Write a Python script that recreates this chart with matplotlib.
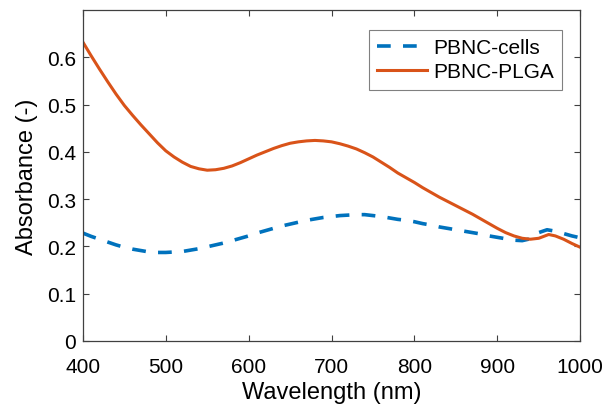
import matplotlib
matplotlib.use("Agg")
import matplotlib.pyplot as plt

plt.rcParams["font.family"] = ["Liberation Sans", "DejaVu Sans"]

# ---------------------------------------------------------------------------
# Data
# ---------------------------------------------------------------------------
wl_plga = [400, 410, 420, 430, 440, 450, 460, 470, 480, 490, 500, 510, 520,
           530, 540, 550, 560, 570, 580, 590, 600, 610, 620, 630, 640, 650,
           660, 670, 680, 690, 700, 710, 720, 730, 740, 750, 760, 770, 780,
           790, 800, 810, 820, 830, 840, 850, 860, 870, 880, 890, 900, 910,
           920, 930, 940, 950, 962, 970, 980, 990, 1000]
abs_plga = [0.632, 0.603, 0.575, 0.548, 0.522, 0.498, 0.477, 0.457, 0.438,
            0.419, 0.402, 0.389, 0.378, 0.369, 0.364, 0.361, 0.362, 0.365,
            0.370, 0.377, 0.385, 0.393, 0.400, 0.407, 0.413, 0.418, 0.421,
            0.423, 0.424, 0.423, 0.421, 0.417, 0.412, 0.406, 0.398, 0.389,
            0.378, 0.367, 0.355, 0.345, 0.335, 0.324, 0.314, 0.304, 0.295,
            0.286, 0.277, 0.268, 0.258, 0.248, 0.238, 0.229, 0.222, 0.217,
            0.215, 0.217, 0.225, 0.222, 0.215, 0.206, 0.198]

wl_cells = [400, 410, 420, 430, 440, 450, 460, 470, 480, 490, 500, 510, 520,
            530, 540, 550, 560, 570, 580, 590, 600, 610, 620, 630, 640, 650,
            660, 670, 680, 690, 700, 710, 720, 730, 740, 750, 760, 770, 780,
            790, 800, 810, 820, 830, 840, 850, 860, 870, 880, 890, 900, 910,
            920, 930, 940, 950, 960, 970, 980, 990, 1000]
abs_cells = [0.228, 0.221, 0.215, 0.209, 0.203, 0.198, 0.194, 0.191, 0.188,
             0.187, 0.187, 0.188, 0.189, 0.192, 0.195, 0.199, 0.203, 0.207,
             0.212, 0.217, 0.222, 0.228, 0.233, 0.238, 0.243, 0.247, 0.251,
             0.255, 0.258, 0.261, 0.263, 0.265, 0.266, 0.267, 0.267, 0.265,
             0.263, 0.260, 0.257, 0.255, 0.252, 0.248, 0.245, 0.241, 0.238,
             0.235, 0.232, 0.229, 0.226, 0.222, 0.219, 0.216, 0.213, 0.212,
             0.216, 0.229, 0.235, 0.232, 0.227, 0.222, 0.218]

x_ticks = [400, 500, 600, 700, 800, 900, 1000]
y_ticks = [0, 0.1, 0.2, 0.3, 0.4, 0.5, 0.6]
y_ticklabels = ["0", "0.1", "0.2", "0.3", "0.4", "0.5", "0.6"]

BLUE = "#0072BD"
ORANGE = "#D95319"
AX_COLOR = "#404040"

# ---------------------------------------------------------------------------
# Figure
# ---------------------------------------------------------------------------
fig = plt.figure(figsize=(6.05, 4.06), dpi=100)
ax = fig.add_axes([0.137, 0.158, 0.822, 0.815])

ax.plot(wl_cells, abs_cells, color=BLUE, lw=2.6, ls=(0, (3.8, 3.4)),
        label="PBNC-cells")
ax.plot(wl_plga, abs_plga, color=ORANGE, lw=2.2, label="PBNC-PLGA")

ax.set_xlim(400, 1000)
ax.set_ylim(0, 0.7)
ax.set_xticks(x_ticks)
ax.set_yticks(y_ticks)
ax.set_yticklabels(y_ticklabels)
ax.tick_params(direction="in", length=4, width=0.8, color=AX_COLOR,
               labelsize=15, top=True, right=True)
ax.tick_params(axis="x", pad=11.5)
ax.tick_params(axis="y", pad=5)
for sp in ax.spines.values():
    sp.set_color(AX_COLOR)
    sp.set_linewidth(0.9)

ax.set_xlabel("Wavelength (nm)", fontsize=17, labelpad=4)
ax.set_ylabel("Absorbance (-)", fontsize=17, labelpad=6)

leg = ax.legend(loc="upper right", bbox_to_anchor=(0.964, 0.94),
                borderaxespad=0, fontsize=15, handlelength=2.4,
                handletextpad=0.3, borderpad=0.4, labelspacing=0.25,
                fancybox=False, framealpha=1, edgecolor="#808080")
leg.get_frame().set_linewidth(0.8)

fig.savefig("out.png", dpi=100)
